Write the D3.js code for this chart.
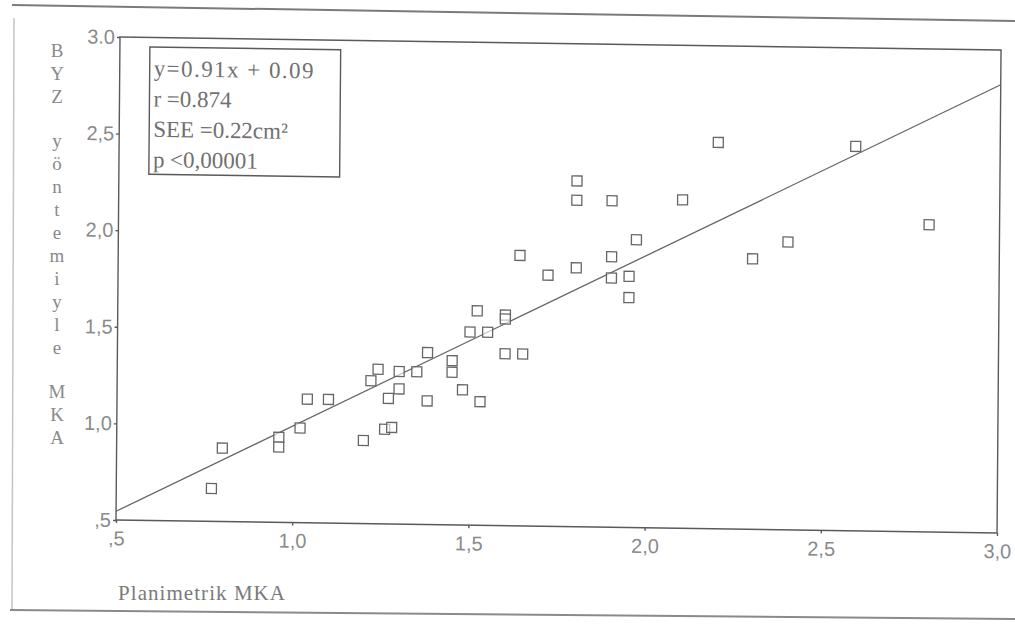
<!DOCTYPE html>
<html>
<head>
<meta charset="utf-8">
<script src="https://cdn.jsdelivr.net/npm/d3@7"></script>
<style>
  html, body { margin: 0; padding: 0; background: #fff; }
  svg { display: block; }
</style>
</head>
<body>
<svg id="chart" width="1015" height="627"></svg>
<script>
// ---- data ----
const planimetrik = [0.77, 0.80, 0.96, 0.96, 1.02, 1.04, 1.10, 1.20, 1.22, 1.24,
                     1.26, 1.27, 1.28, 1.30, 1.30, 1.35, 1.38, 1.38, 1.45, 1.45,
                     1.48, 1.50, 1.52, 1.53, 1.55, 1.60, 1.60, 1.60, 1.64, 1.65,
                     1.72, 1.80, 1.80, 1.80, 1.90, 1.90, 1.90, 1.95, 1.95, 1.97,
                     2.10, 2.20, 2.30, 2.40, 2.59, 2.80];
const byzMka     = [0.67, 0.88, 0.94, 0.89, 0.99, 1.14, 1.14, 0.93, 1.24, 1.30,
                     0.99, 1.15, 1.00, 1.20, 1.29, 1.29, 1.14, 1.39, 1.35, 1.29,
                     1.20, 1.50, 1.61, 1.14, 1.50, 1.39, 1.59, 1.57, 1.90, 1.39,
                     1.80, 1.84, 2.29, 2.19, 2.19, 1.90, 1.79, 1.80, 1.69, 1.99,
                     2.20, 2.50, 1.90, 1.99, 2.49, 2.09];
const xTickValues = [0.5, 1.0, 1.5, 2.0, 2.5, 3.0];
const xTickLabels = [",5", "1,0", "1,5", "2,0", "2,5", "3,0"];
const yTickValues = [0.5, 1.0, 1.5, 2.0, 2.5, 3.0];
const yTickLabels = [",5", "1,0", "1,5", "2,0", "2,5", "3.0"];
const regSlope = 0.91;
const regIntercept = 0.09;
const statsLines = ["y=0.91x + 0.09", "r =0.874", "SEE =0.22cm\u00B2", "p <0,00001"];
const yTitleWords = ["BYZ", "yöntemiyle", "MKA"];
const xTitle = "Planimetrik MKA";

// ---- layout ----
const svg = d3.select("#chart");
const L = 117, R = 999, T = 40, B = 522;
const x = d3.scaleLinear().domain([0.5, 3.0]).range([L, R]);
const y = d3.scaleLinear().domain([0.5, 3.0]).range([B, T]);

const axisColor = "#5a5a5a";
const tickText = "#8a8a8a";
const markColor = "#666";

// outer scan frame
const frame = svg.append("g").attr("fill", "none");
frame.append("line").attr("x1", 12).attr("y1", 5).attr("x2", 1015).attr("y2", 21)
  .attr("stroke", "#7a7a7a").attr("stroke-width", 2);
frame.append("line").attr("x1", 14).attr("y1", 18).attr("x2", 12).attr("y2", 610)
  .attr("stroke", "#c4c4c4").attr("stroke-width", 1.5);
frame.append("line").attr("x1", 10).attr("y1", 610).attr("x2", 1015).attr("y2", 619)
  .attr("stroke", "#8a8a8a").attr("stroke-width", 2);

// skewed plot group (scan is slightly rotated)
const g = svg.append("g")
  .attr("transform", "matrix(0.9989,0.01474,-0.0083,1.002,3.46,-4.8)");

// plot frame
g.append("rect")
  .attr("x", L).attr("y", T).attr("width", R - L).attr("height", B - T)
  .attr("fill", "none").attr("stroke", axisColor).attr("stroke-width", 1.4);

// x axis
const xAxis = g.append("g")
  .attr("transform", `translate(0,${B})`)
  .call(d3.axisBottom(x).tickValues(xTickValues)
    .tickFormat((d, i) => xTickLabels[i]).tickSize(3).tickSizeOuter(0).tickPadding(8));
xAxis.select(".domain").remove();
xAxis.selectAll("line").attr("stroke", axisColor).attr("stroke-width", 1.4);
xAxis.selectAll("text").attr("fill", tickText)
  .attr("font-family", "'Liberation Sans', Arial, sans-serif").attr("font-size", 20);

// y axis
const yAxis = g.append("g")
  .attr("transform", `translate(${L},0)`)
  .call(d3.axisLeft(y).tickValues(yTickValues)
    .tickFormat((d, i) => yTickLabels[i]).tickSize(3).tickSizeOuter(0).tickPadding(2));
yAxis.select(".domain").remove();
yAxis.selectAll("line").attr("stroke", axisColor).attr("stroke-width", 1.4);
yAxis.selectAll("text").attr("fill", tickText)
  .attr("font-family", "'Liberation Sans', Arial, sans-serif").attr("font-size", 20);

// regression line
const lineGen = d3.line().x(d => x(d)).y(d => y(regSlope * d + regIntercept));
g.append("path")
  .datum([0.5, 3.0])
  .attr("d", lineGen)
  .attr("fill", "none").attr("stroke", markColor).attr("stroke-width", 1.3);

// points
const sz = 10;
const pts = planimetrik.map((v, i) => ({ px: v, py: byzMka[i] }));
g.append("g").selectAll("rect")
  .data(pts).join("rect")
  .attr("x", d => x(d.px) - sz / 2)
  .attr("y", d => y(d.py) - sz / 2)
  .attr("width", sz).attr("height", sz)
  .attr("fill", "#fff").attr("fill-opacity", 0.6)
  .attr("stroke", markColor).attr("stroke-width", 1.3);

// stats box
const bx = L + 30, by = T + 9.5, bw = 191, bh = 127;
g.append("rect").attr("x", bx).attr("y", by).attr("width", bw).attr("height", bh)
  .attr("fill", "#fff").attr("stroke", axisColor).attr("stroke-width", 1.4);
const statsText = g.append("g").selectAll("text")
  .data(statsLines).join("text")
  .attr("x", bx + 4)
  .attr("y", (d, i) => by + 29 + i * 30.3)
  .attr("font-family", "'Liberation Serif', 'Times New Roman', serif")
  .attr("font-size", 23)
  .attr("fill", "#707070")
  .text(d => d);
statsText.filter((d, i) => i === 0)
  .attr("textLength", 160).attr("lengthAdjust", "spacing");

// x axis title
svg.append("text")
  .attr("x", 118).attr("y", 600)
  .attr("font-family", "'Liberation Serif', 'Times New Roman', serif")
  .attr("font-size", 21)
  .attr("fill", "#7a7a7a")
  .attr("textLength", 167).attr("lengthAdjust", "spacing")
  .text(xTitle);

// y axis title, stacked letters
const yTitle = svg.append("g")
  .attr("font-family", "'Liberation Serif', 'Times New Roman', serif")
  .attr("font-size", 19)
  .attr("fill", "#8a8a8a")
  .attr("text-anchor", "middle");
let cy = 50;
yTitleWords.forEach(w => {
  Array.from(w).forEach(ch => {
    yTitle.append("text").attr("x", 57).attr("y", cy)
      .attr("dominant-baseline", "central").text(ch);
    cy += 23;
  });
  cy += 21;
});
</script>
</body>
</html>
